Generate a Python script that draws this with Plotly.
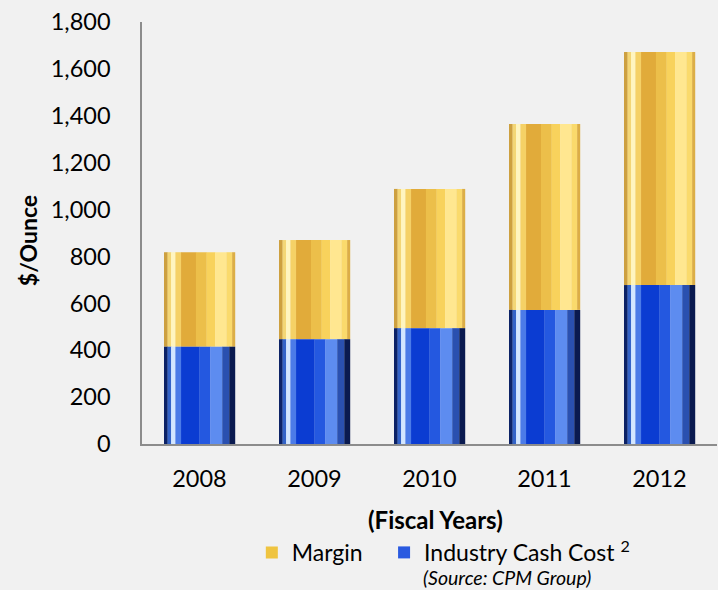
import plotly.graph_objects as go

years = ["2008", "2009", "2010", "2011", "2012"]
cash_cost = [415, 447, 494, 572, 678]
margin = [403, 423, 594, 793, 994]
y_ticks = [0, 200, 400, 600, 800, 1000, 1200, 1400, 1600, 1800]

FONT = "Lato"
BAR_W = 0.617

gold_stops = [
    (0.00, 0.05, "#cda040"),
    (0.05, 0.10, "#f3d676"),
    (0.10, 0.16, "#fff5c0"),
    (0.16, 0.24, "#f5d166"),
    (0.24, 0.45, "#e1ab3a"),
    (0.45, 0.60, "#ecbf4a"),
    (0.60, 0.72, "#f8d25c"),
    (0.72, 0.88, "#ffe790"),
    (0.88, 0.96, "#fada6c"),
    (0.96, 1.00, "#dcae46"),
]
blue_stops = [
    (0.00, 0.05, "#0c2266"),
    (0.05, 0.10, "#3363c8"),
    (0.10, 0.16, "#d3e6ff"),
    (0.16, 0.24, "#4b7be8"),
    (0.24, 0.50, "#0b3cd2"),
    (0.50, 0.65, "#2458e0"),
    (0.65, 0.82, "#5d8cf0"),
    (0.82, 0.92, "#2a50b0"),
    (0.92, 1.00, "#0a1a50"),
]

fig = go.Figure()


def add_series(name, values, base, stops, legend_color, legend_id):
    for a, b, col in stops:
        fig.add_trace(go.Bar(
            x=years, y=values, base=base,
            width=BAR_W * (b - a) + 0.002,
            offset=-BAR_W / 2 + BAR_W * a,
            marker=dict(color=col, line=dict(width=0)),
            showlegend=False, hoverinfo="skip", legendgroup=name,
        ))
    fig.add_trace(go.Bar(
        x=[None], y=[None], name=name, legendgroup=name,
        marker=dict(color=legend_color, line=dict(width=0)),
        showlegend=True, legend=legend_id,
    ))


add_series("Margin", margin, cash_cost, gold_stops, "#efc440", "legend")
add_series("Industry Cash Cost <sup>2</sup>", cash_cost, [0] * len(years),
           blue_stops, "#2a5ae0", "legend2")

legend_common = dict(
    orientation="h", yanchor="middle", xanchor="left",
    font=dict(family=FONT, size=23, color="#000000"),
    bgcolor="rgba(0,0,0,0)",
)

fig.update_layout(
    width=718, height=590,
    margin=dict(l=142, r=1, t=22, b=146),
    paper_bgcolor="#f1f1f1",
    plot_bgcolor="rgba(0,0,0,0)",
    barmode="overlay",
    font=dict(family=FONT, size=23, color="#000000"),
    showlegend=True,
    legend=dict(x=0.191, y=-0.257, **legend_common),
    legend2=dict(x=0.421, y=-0.257, **legend_common),
    xaxis=dict(
        type="category", showline=True, linecolor="#8c8c8c", linewidth=1.5,
        showgrid=False, ticks="", ticklabelstandoff=13,
        tickfont=dict(family=FONT, size=23.5, color="#000000"),
        range=[-0.5, 4.5],
    ),
    yaxis=dict(
        range=[0, 1800], tickvals=y_ticks, tickformat=",",
        showline=True, linecolor="#8c8c8c", linewidth=1.5,
        showgrid=False, zeroline=False, ticks="", ticklabelstandoff=25,
        tickfont=dict(family=FONT, size=23.5, color="#000000"),
    ),
    annotations=[
        dict(text="<b>$/Ounce</b>", xref="paper", yref="paper",
             x=-0.198, y=0.481, textangle=-90, showarrow=False,
             font=dict(family=FONT, size=23, color="#000000"),
             xanchor="center", yanchor="middle"),
        dict(text="<b>(Fiscal Years)</b>", xref="paper", yref="paper",
             x=0.51, y=-0.18, showarrow=False,
             font=dict(family=FONT, size=24, color="#000000"),
             xanchor="center", yanchor="middle"),
        dict(text="<i>(Source: CPM Group)</i>", xref="paper", yref="paper",
             x=0.635, y=-0.317, showarrow=False, borderpad=0,
             font=dict(family=FONT, size=19.5, color="#000000"),
             xanchor="center", yanchor="middle"),
    ],
)

fig.write_html(
    "out.html",
    config={"displayModeBar": False},
    post_script="document.body.style.margin='0';document.body.style.background='#f1f1f1';",
)
